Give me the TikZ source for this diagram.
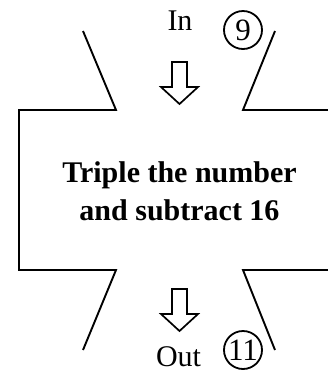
\documentclass[tikz,border=0pt]{standalone}
\usepackage{fontspec}
\setmainfont{Liberation Serif}
\usetikzlibrary{calc}
\begin{document}
\begin{tikzpicture}[x=1pt,y=-1pt,
  outline/.style={line width=1.9pt,line join=miter},
  blockarrow/.style={line width=1.7pt,line join=miter},
  label/.style={inner sep=0pt,anchor=base,font=\fontsize{30}{36}\selectfont},
  numcircle/.style={circle,draw,line width=1.8pt,minimum size=38pt,inner sep=0pt,font=\fontsize{31}{36}\selectfont}]
\useasboundingbox (0,0) rectangle (328,373);
% machine outline
\draw[outline] (83,31) -- (116,110) -- (19,110) -- (19,270) -- (116,270) -- (83,350);
\draw[outline] (275,31) -- (243,110) -- (330,110);
\draw[outline] (275,350) -- (243,270) -- (330,270);
% texts
\node[label] (in) at (180,30) {In};
\node[label] (out) at (178.5,366) {Out};
\node[numcircle] (nine) at (243,30) {9};
\node[numcircle] (eleven) at (243,350) {11};
\node[inner sep=0pt,align=center,font=\bfseries\fontsize{30}{38}\selectfont] (rule) at (179.5,191) {Triple the number\\and subtract 16};
% block arrows
\coordinate (a1) at (179.5,62);
\coordinate (a2) at (179.5,289);
\foreach \c in {a1,a2}{
  \draw[blockarrow] ($(\c)+(-7.5,0)$) -- ($(\c)+(7.5,0)$) -- ($(\c)+(7.5,25)$) -- ($(\c)+(18.5,25)$) -- ($(\c)+(0,42)$) -- ($(\c)+(-18.5,25)$) -- ($(\c)+(-7.5,25)$) -- cycle;
}
\end{tikzpicture}
\end{document}
